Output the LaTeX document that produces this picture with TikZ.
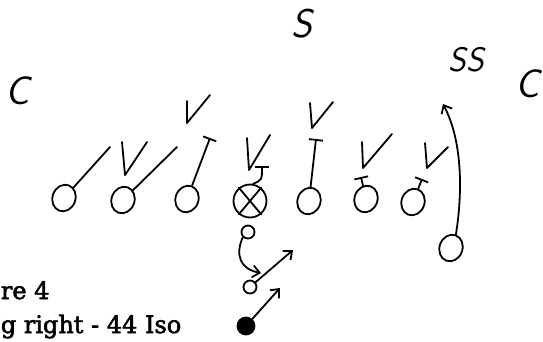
\documentclass[tikz,border=0pt]{standalone}
\usepackage{fontspec}
\usetikzlibrary{shapes.geometric, arrows.meta}
\newfontfamily\capfont{DejaVu Serif}[FakeBold=2.5]

\begin{document}
\begin{tikzpicture}[x=1pt, y=-1pt, line width=1.8pt, line cap=round, line join=round,
    lineman/.style={draw, ellipse, minimum width=23pt, minimum height=27pt, inner sep=0pt, rotate=-20},
    back/.style={draw, circle, minimum size=13pt, inner sep=0pt},
    defv/.style={line width=1.8pt},
    block/.style={-{Bar[width=14pt]}},
    run/.style={-{Straight Barb[length=7pt, width=12pt]}},
    hand/.style={font=\sffamily\itshape\fontsize{40}{40}\selectfont, inner sep=0pt}]
    \useasboundingbox (0,0) rectangle (543,341);
    % defense
    \node[hand] (safety) at (302,24) {S};
    \node[hand, font=\sffamily\itshape\fontsize{34}{34}\selectfont] (ss) at (466,60) {SS};
    \node[hand] (cl) at (18,91) {C};
    \node[hand] (cr) at (528,84) {C};
    \draw[defv] (122,142) -- (125,175) -- (147,142);
    \draw[defv] (187,101) -- (187,123) -- (210,95);
    \draw[defv] (247,138) -- (249,170) -- (270,135);
    \draw[defv] (310,103) -- (312,128) -- (333,102);
    \draw[defv] (362,142) -- (363,168) -- (392,134);
    \draw[defv] (425,143) -- (427,168) -- (448,147);
    % offense
    \node[lineman] (ol1) at (64,198) {};
    \node[lineman] (ol2) at (123,200) {};
    \node[lineman] (ol3) at (187,199) {};
    \node[draw, circle, minimum size=33pt, inner sep=0pt] (ctr) at (250,201) {};
    \draw (ctr.130) -- (ctr.-50);
    \draw (ctr.50) -- (ctr.-130);
    \node[lineman] (ol5) at (309,201) {};
    \node[lineman] (ol6) at (366,199) {};
    \node[lineman] (ol7) at (413,202) {};
    \node[lineman] (wing) at (451,248) {};
    \node[back] (fb) at (248,232) {};
    \node[back] (hb) at (250,287) {};
    \node[back, fill=black, minimum size=17pt] (tb) at (246,326) {};
    % blocks
    \coordinate (b1) at (110,147);
    \coordinate (b2) at (177,147);
    \coordinate (b3) at (210,138);
    \coordinate (bc) at (262,166);
    \coordinate (b5) at (316,139);
    \coordinate (b6) at (361,177);
    \coordinate (b7) at (422,179);
    \draw (ol1) -- (b1);
    \draw (ol2) -- (b2);
    \draw[block] (ol3) -- (b3);
    \draw[block] (ctr.80) .. controls (262,180) .. (bc);
    \draw[block] (ol5) -- (b5);
    \draw[block] (ol6) -- (b6);
    \draw[block] (ol7) -- (b7);
    % routes
    \coordinate (wgo) at (443,104);
    \coordinate (fbgo) at (261,273);
    \coordinate (hbgo) at (293,250);
    \coordinate (tbgo) at (280,288);
    \draw[run] (wing.north) .. controls (463,190) and (462,140) .. (wgo);
    \draw[run] (fb.south west) .. controls (235,255) and (240,269) .. (fbgo);
    \draw[run] (hb) -- (hbgo);
    \draw[run] (tb) -- (tbgo);
    % caption
    \node[anchor=base west, inner sep=0pt, font=\capfont\fontsize{24}{24}\selectfont] (cap1) at (0,299) {re 4};
    \node[anchor=base west, inner sep=0pt, font=\capfont\fontsize{24}{24}\selectfont] (cap2) at (0,333) {g right - 44 Iso};
\end{tikzpicture}
\end{document}
